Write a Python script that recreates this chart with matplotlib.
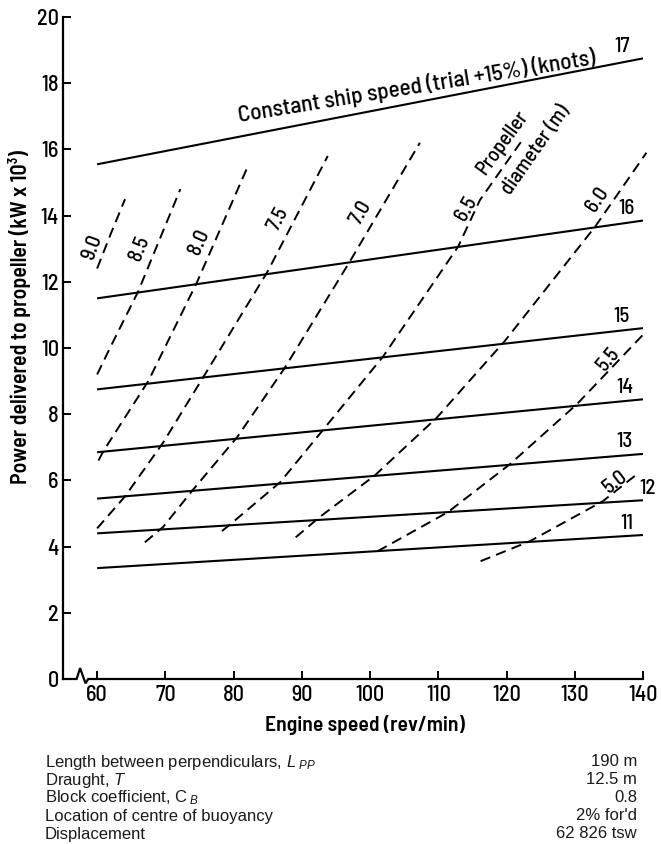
import matplotlib
matplotlib.use("Agg")
import matplotlib.pyplot as plt
from matplotlib import font_manager

plt.rcParams['lines.scale_dashes'] = False
plt.rcParams['mathtext.fontset'] = 'custom'
plt.rcParams['mathtext.rm'] = 'Liberation Sans'
plt.rcParams['mathtext.it'] = 'Liberation Sans:italic'

names = {f.name for f in font_manager.fontManager.ttflist}
CF = 'DejaVu Sans'
for cand in ['Barlow Semi Condensed', 'Barlow Condensed', 'Roboto Condensed',
             'Archivo Narrow', 'PT Sans Narrow', 'Liberation Sans Narrow']:
    if cand in names:
        CF = cand
        break
TF = 'Liberation Sans'

# ---- data ----
speed_labels = ["11", "12", "13", "14", "15", "16", "17"]
speed_rpm = [60, 140]
speed_11 = [3.35, 4.35]
speed_12 = [4.40, 5.40]
speed_13 = [5.45, 6.80]
speed_14 = [6.85, 8.45]
speed_15 = [8.75, 10.60]
speed_16 = [11.50, 13.85]
speed_17 = [15.55, 18.75]
speed_series = [speed_11, speed_12, speed_13, speed_14, speed_15, speed_16, speed_17]

diam_labels = ["9.0", "8.5", "8.0", "7.5", "7.0", "6.5", "6.0", "5.5", "5.0"]
d90_rpm = [60.0, 62.0, 64.1]
d90_pow = [12.4, 13.45, 14.5]
d85_rpm = [60.0, 62.0, 66.0, 69.0, 72.2]
d85_pow = [9.2, 10.05, 11.7, 13.2, 14.8]
d80_rpm = [60.2, 60.9, 67.5, 74.6, 81.9]
d80_pow = [6.6, 6.88, 9.0, 11.97, 15.4]
d75_rpm = [60.0, 64.1, 69.7, 75.5, 84.9, 93.8]
d75_pow = [4.55, 5.52, 7.15, 9.1, 12.28, 15.8]
d70_rpm = [67.0, 69.7, 74.1, 80.5, 87.5, 97.0, 107.3]
d70_pow = [4.13, 4.6, 5.73, 7.3, 9.4, 12.6, 16.2]
d65_rpm = [78.3, 79.9, 86.8, 93.8, 101.9, 112.9, 116.1, 122.3]
d65_pow = [4.47, 4.74, 5.94, 7.7, 9.74, 13.06, 14.47, 16.28]
d60_rpm = [89.1, 92.6, 100.7, 109.8, 119.7, 133.0, 140.5]
d60_pow = [4.28, 4.89, 6.15, 7.9, 10.2, 13.67, 15.9]
d55_rpm = [101.1, 111.4, 120.5, 130.3, 140.0]
d55_pow = [3.86, 5.04, 6.49, 8.3, 10.4]
d50_rpm = [116.2, 123.4, 134.1, 139.5]
d50_pow = [3.56, 4.16, 5.37, 6.25]
diam_series = [(d90_rpm, d90_pow), (d85_rpm, d85_pow), (d80_rpm, d80_pow),
               (d75_rpm, d75_pow), (d70_rpm, d70_pow), (d65_rpm, d65_pow),
               (d60_rpm, d60_pow), (d55_rpm, d55_pow), (d50_rpm, d50_pow)]

x_ticks = [60, 70, 80, 90, 100, 110, 120, 130, 140]
y_ticks = [0, 2, 4, 6, 8, 10, 12, 14, 16, 18, 20]

table_names = [r"Length between perpendiculars, $L_{\ PP}$", r"Draught, $T$",
               r"Block coefficient, C$_{\ B}$", "Location of centre of buoyancy",
               "Displacement"]
table_values = ["190 m", "12.5 m", "0.8", "2% for'd", "62 826 tsw"]

# ---- figure ----
W, H = 661, 844
fig = plt.figure(figsize=(W / 100, H / 100), dpi=100)
ax = fig.add_axes([63 / W, 1 - 679 / H, (643 - 63) / W, (679 - 17) / H])
ax.set_xlim(55, 140)
ax.set_ylim(0, 20)

for s in ['top', 'right', 'bottom']:
    ax.spines[s].set_visible(False)
ax.spines['left'].set_linewidth(1.6)

# x axis with break
ax.plot([55, 57.0, 57.5, 58.3, 58.7, 140], [0, 0, 0.33, -0.13, 0, 0],
        color='black', lw=1.6, clip_on=False, solid_joinstyle='miter')

ax.set_xticks(x_ticks)
ax.set_yticks(y_ticks)
ax.tick_params(direction='in', length=6, width=1.4, labelsize=16, pad=4)
ax.tick_params(axis='y', pad=3)
for lab in ax.get_xticklabels() + ax.get_yticklabels():
    lab.set_fontfamily(CF)
    lab.set_fontweight(500)

# constant speed lines
for vals in speed_series:
    ax.plot(speed_rpm, vals, color='black', lw=1.5, solid_capstyle='butt')

# propeller diameter curves
for rpm, pw in diam_series:
    ax.plot(rpm, pw, color='black', lw=1.4, dashes=(7.5, 4.5), clip_on=False)

FS = 15
# speed labels
speed_pos = [(137.6, 4.7), (140.7, 5.75), (137.3, 7.17), (137.3, 8.8),
             (136.9, 10.95), (137.6, 14.2), (136.9, 19.1)]
for lab, (x, y) in zip(speed_labels, speed_pos):
    ax.text(x, y, lab, fontsize=FS, family=CF, weight=500, ha='center', va='center')

ax.text(106.8, 17.9, "Constant ship speed (trial +15%) (knots)", fontsize=16.8,
        family=CF, weight=500, rotation=9.2, ha='center', va='center',
        rotation_mode='anchor')

# diameter labels
diam_pos = [(59.3, 13.05, 70), (66.2, 13.0, 68), (75.0, 13.2, 66), (86.5, 13.9, 62),
            (98.7, 14.1, 60), (114.1, 14.2, 60), (133.3, 14.5, 56),
            (135.0, 9.65, 50), (136.0, 5.95, 38)]
for lab, (x, y, r) in zip(diam_labels, diam_pos):
    ax.text(x, y, lab, fontsize=FS, family=CF, weight=500, rotation=r, ha='center',
            va='center', rotation_mode='anchor')

ax.text(119.4, 16.2, "Propeller", fontsize=FS, family=CF, weight=500, rotation=54,
        ha='center', va='center', rotation_mode='anchor')
ax.text(124.3, 16.0, "diameter (m)", fontsize=FS, family=CF, weight=500, rotation=55,
        ha='center', va='center', rotation_mode='anchor')

# axis titles
fig.text(365 / W, 1 - 725 / H, "Engine speed (rev/min)", fontsize=15.5, family=CF,
         weight=600, ha='center', va='center')
fig.text(20 / W, 1 - 317 / H, "Power delivered to propeller (kW x 10³)", fontsize=15.8,
         family=CF, weight=600, rotation=90, ha='center', va='center')

# table
rows_y = [762, 780, 798, 816, 834]
for name, val, y in zip(table_names, table_values, rows_y):
    fig.text(45 / W, 1 - y / H, name, fontsize=12, family=TF, ha='left', va='center',
             color='#1a1a1a')
    fig.text(637 / W, 1 - y / H, val, fontsize=12, family=TF, ha='right', va='center',
             color='#1a1a1a')

fig.savefig("out.png", dpi=100, facecolor='white')
